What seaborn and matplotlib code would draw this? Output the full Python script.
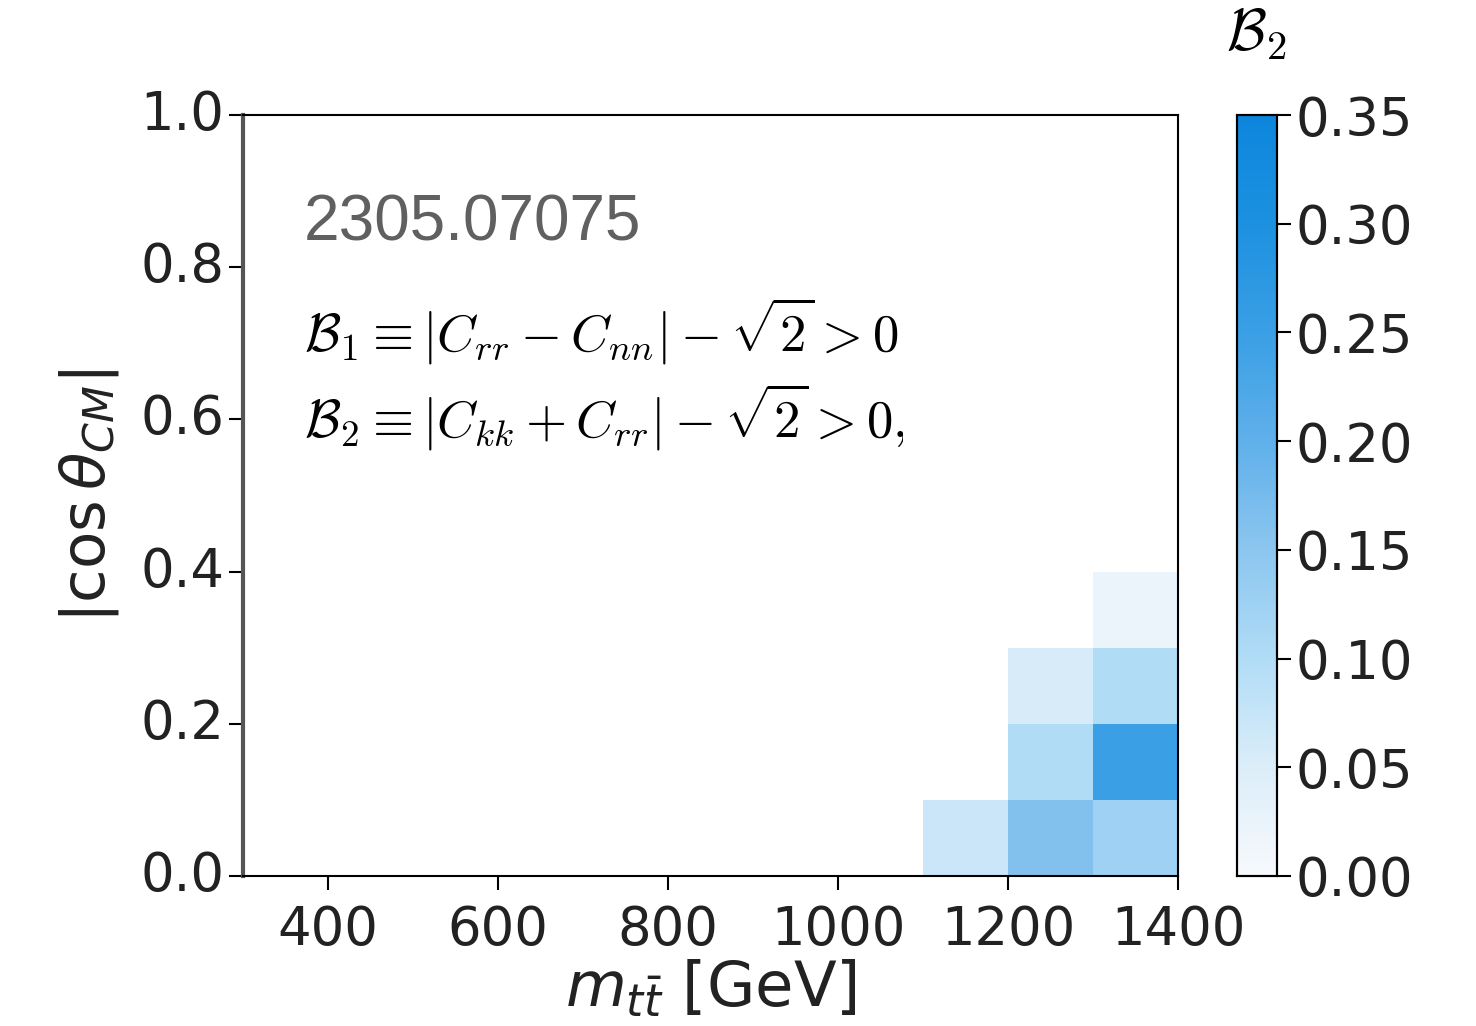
import numpy as np
import pandas as pd
import matplotlib
matplotlib.use("Agg")
import matplotlib.pyplot as plt
import seaborn as sns
from matplotlib.colors import LinearSegmentedColormap
from matplotlib.transforms import Bbox

# bins
mtt_edges = [300, 400, 500, 600, 700, 800, 900, 1000, 1100, 1200, 1300, 1400]
cos_edges = [0.0, 0.1, 0.2, 0.3, 0.4, 0.5, 0.6, 0.7, 0.8, 0.9, 1.0]
x_ticks = [400, 600, 800, 1000, 1200, 1400]
y_ticks = [0.0, 0.2, 0.4, 0.6, 0.8, 1.0]
cb_ticks = [0.00, 0.05, 0.10, 0.15, 0.20, 0.25, 0.30, 0.35]

# non-zero cells: (mtt bin low edge, cos bin low edge, value)
cell_mtt = [1100, 1200, 1300, 1200, 1300, 1200, 1300, 1300]
cell_cos = [0.0, 0.0, 0.0, 0.1, 0.1, 0.2, 0.2, 0.3]
cell_val = [0.07, 0.16, 0.125, 0.10, 0.25, 0.055, 0.10, 0.02]

ncol = len(mtt_edges) - 1
nrow = len(cos_edges) - 1
grid = np.zeros((nrow, ncol))
for m, c, v in zip(cell_mtt, cell_cos, cell_val):
    i = int(round(c / 0.1))
    j = mtt_edges.index(m)
    grid[i, j] = v
df = pd.DataFrame(grid, index=cos_edges[:-1], columns=mtt_edges[:-1])

cmap_colors = ["#f7f9fc", "#dbedf9", "#b0dcf6", "#8cc6ef", "#5fb0ea",
               "#3a9fe5", "#1d91e0", "#0c86dc"]
cmap = LinearSegmentedColormap.from_list(
    "b2", list(zip(np.linspace(0, 1, len(cmap_colors)), cmap_colors)))

fig = plt.figure(figsize=(14.76, 10.26), dpi=100)
ax = fig.add_axes([0.1646, 0.1462, 0.6335, 0.7417])
cax = fig.add_axes([0.838, 0.1462, 0.027, 0.7417])

sns.heatmap(df, ax=ax, cbar_ax=cax, cmap=cmap, vmin=0, vmax=0.35,
            mask=(df.values == 0), cbar=True)
ax.invert_yaxis()

for s in ax.spines.values():
    s.set_visible(True)
    s.set_color("black")
    s.set_linewidth(1.5)
ax.spines["left"].set_color("#555555")
ax.spines["left"].set_linewidth(3)

ax.set_xticks([(t - mtt_edges[0]) / 100 for t in x_ticks])
ax.set_xticklabels([str(t) for t in x_ticks], rotation=0)
ax.set_yticks([t / 0.1 for t in y_ticks])
ax.set_yticklabels([f"{t:.1f}" for t in y_ticks], rotation=0)
ax.tick_params(axis="both", labelsize=38, length=10, width=1.5, direction="out",
               colors="black", labelcolor="#222222")
ax.tick_params(axis="x", pad=10)
ax.set_xlabel(r"$m_{t\bar{t}}$ [GeV]", fontsize=45, color="#222222", labelpad=2)
ax.set_ylabel(r"$|\cos\theta_{CM}|$", fontsize=44, color="#222222", labelpad=14)

cax.set_yticks(cb_ticks)
cax.set_yticklabels([f"{t:.2f}" for t in cb_ticks])
cax.tick_params(labelsize=38, length=10, width=1.5, labelcolor="#222222")
for s in cax.spines.values():
    s.set_visible(True)
    s.set_color("black")
    s.set_linewidth(1.5)
cax.text(0.5, 1.07, r"$\mathcal{B}_2$", transform=cax.transAxes, ha="center",
         va="bottom", fontsize=42, math_fontfamily="cm")

ax.text(0.065, 0.858, "2305.07075", transform=ax.transAxes, fontsize=46,
        color="#606060", family="Liberation Sans", va="center", ha="left")
ax.text(0.065, 0.715,
        r"$\mathcal{B}_1 \equiv |C_{rr} - C_{nn}| - \sqrt{2} > 0$",
        transform=ax.transAxes, fontsize=38, math_fontfamily="cm", va="center", ha="left")
t2 = ax.text(0.065, 0.603,
             r"$\mathcal{B}_2 \equiv |C_{kk} + C_{rr}| - \sqrt{2} > 0,$",
             transform=ax.transAxes, fontsize=38, math_fontfamily="cm", va="center", ha="left")
t2.set_clip_box(Bbox.from_extents(0, 0, 903, 1026))
t2.set_clip_on(True)

fig.savefig("out.png", dpi=100, facecolor="white")
